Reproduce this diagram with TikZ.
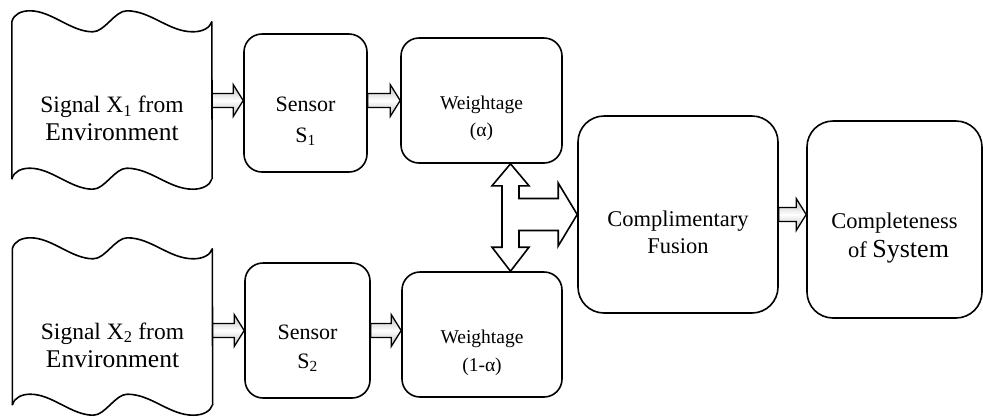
\documentclass[tikz,border=0pt]{standalone}
\usepackage{fontspec}
\setmainfont{Liberation Serif}
\usetikzlibrary{calc}

\tikzset{
    box/.style={draw, line width=1.6pt, rounded corners=18pt},
    bigbox/.style={box, rounded corners=26pt},
    txt/.style={align=center, yshift=-18pt},
    sigline/.style={line width=1.6pt, line join=round},
    % two bumps along the top / bottom of a signal sheet
    wavyedge/.style={insert path={
        .. controls +(2,-8) and +(-8,0) .. ++(18,-11)
        .. controls +(22,0) and +(-22,0) .. ++(63,21)
        .. controls +(12,0) and +(-12,0) .. ++(34,-21)
        .. controls +(24,0) and +(-24,0) .. ++(66,21)
        .. controls +(10,0) and +(-2,6) .. ++(19,-10)}},
    fatarrow/.style={line width=1.3pt, line join=miter,
        top color=gray!55, bottom color=gray!55, middle color=white,
        to path={let \p1=(\tikztostart), \p2=(\tikztotarget) in
            (\x1,\y1+7pt) -- (\x2-10pt,\y1+7pt) -- (\x2-10pt,\y1+16pt) -- (\x2,\y1)
            -- (\x2-10pt,\y1-16pt) -- (\x2-10pt,\y1-7pt) -- (\x1,\y1-7pt) -- cycle}}
}

\begin{document}
\begin{tikzpicture}[x=1pt, y=-1pt]
    \useasboundingbox (0,0) rectangle (983,416);

    \node[minimum width=200pt, minimum height=157pt, inner sep=0pt,
        label={[txt, font=\fontsize{23.5}{28}\selectfont]center:{Signal X\textsubscript{1} from\\{\fontsize{25.5}{28}\selectfont Environment}}}] (sig1) at (112,100.5) {};
    \node[minimum width=200pt, minimum height=156pt, inner sep=0pt,
        label={[txt, font=\fontsize{23.5}{28}\selectfont]center:{Signal X\textsubscript{2} from\\{\fontsize{25.5}{28}\selectfont Environment}}}] (sig2) at (112.5,327) {};

    \node[box, minimum width=123pt, minimum height=138pt,
        label={[txt, font=\fontsize{22}{31}\selectfont]center:{Sensor\\S\textsubscript{1}}}] (sen1) at (305.5,103) {};
    \node[box, minimum width=125pt, minimum height=135pt,
        label={[txt, font=\fontsize{22}{29}\selectfont]center:{Sensor\\S\textsubscript{2}}}] (sen2) at (307.5,330.5) {};

    \node[box, minimum width=161pt, minimum height=125pt,
        label={[txt, font=\fontsize{19.5}{27}\selectfont]center:{Weightage\\(α)}}] (wt1) at (481.5,100.5) {};
    \node[box, minimum width=160pt, minimum height=125pt,
        label={[txt, font=\fontsize{19.5}{28}\selectfont]center:{Weightage\\(1-α)}}] (wt2) at (482,334.5) {};

    \node[bigbox, minimum width=200pt, minimum height=197pt,
        label={[txt, font=\fontsize{22.5}{27}\selectfont]center:{Complimentary\\Fusion}}] (fus) at (678,214.5) {};
    \node[bigbox, minimum width=175pt, minimum height=197pt,
        label={[txt, font=\fontsize{22.5}{29}\selectfont]center:{Completeness\\\hspace*{8pt}of {\fontsize{26}{29}\selectfont System}}}] (comp) at (894.5,219.5) {};

    % signal sheets
    \draw[sigline] (sig1.south west) -- (sig1.north west) [wavyedge] -- (sig1.south east);
    \draw[sigline] (sig1.south west) [wavyedge];
    \draw[sigline] (sig2.south west) -- (sig2.north west) [wavyedge] -- (sig2.south east);
    \draw[sigline] (sig2.south west) [wavyedge];

    % hollow arrows
    \draw[fatarrow] (sig1.east) to (sig1.east -| sen1.west);
    \draw[fatarrow] (sen1.east |- wt1.west) to (wt1.west);
    \draw[fatarrow] (sen2.west -| sig2.east) to (sen2.west);
    \draw[fatarrow] (sen2.east) to (sen2.east -| wt2.west);
    \draw[fatarrow] (fus.east) to (fus.east -| comp.west);

    % double arrow with branch into the fusion block
    \coordinate (hub) at (510.5,216);
    \draw[line width=1.6pt, fill=white, line join=miter]
        let \p1=(hub |- wt1.south), \p2=(hub |- wt2.north), \p3=(fus.west) in
        (\p1) -- ++(18.5pt,-22pt) -- ++(-10pt,0pt) -- (\x1+8.5pt,\y3+16pt)
        -- (\x3-19pt,\y3+16pt) -- ++(0pt,15.5pt) -- (\p3) -- ++(-19pt,-31.5pt) -- ++(0pt,15.5pt)
        -- (\x1+8.5pt,\y3-16pt) -- (\x2+8.5pt,\y2+24pt) -- ++(10pt,0pt) -- (\p2)
        -- ++(-18.5pt,24pt) -- ++(10pt,0pt) -- (\x1-8.5pt,\y1-22pt) -- ++(-10pt,0pt) -- cycle;
\end{tikzpicture}
\end{document}
